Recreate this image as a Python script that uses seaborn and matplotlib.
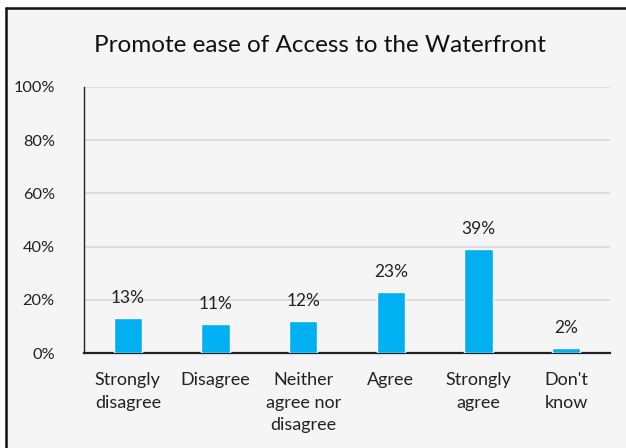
import matplotlib
matplotlib.use("Agg")
import matplotlib.pyplot as plt
import seaborn as sns
import pandas as pd
from matplotlib.patches import Rectangle
from matplotlib.lines import Line2D
from matplotlib.ticker import FuncFormatter

categories = ["Strongly\ndisagree", "Disagree", "Neither\nagree nor\ndisagree",
              "Agree", "Strongly\nagree", "Don't\nknow"]
values = [13, 11, 12, 23, 39, 2]
y_ticks = [0, 20, 40, 60, 80, 100]
title = "Promote ease of Access to the Waterfront"

sns.set_theme(style="white")
plt.rcParams["font.family"] = ["Lato", "DejaVu Sans"]

df = pd.DataFrame({"category": categories, "value": values})

W, H = 626, 448
fig = plt.figure(figsize=(W / 100, H / 100), dpi=100, facecolor="white")

# Chart area panel, framed on the top and left
x0, y0 = 5.5 / W, 1 - 8 / H
fig.patches.append(Rectangle((x0, 0), 1 - x0, y0, transform=fig.transFigure,
                             facecolor="#F5F5F5", edgecolor="none", zorder=-5))
fig.lines.append(Line2D([x0, 1], [y0, y0], transform=fig.transFigure,
                        color="#111111", linewidth=1.8, zorder=-4))
fig.lines.append(Line2D([x0, x0], [0, y0], transform=fig.transFigure,
                        color="#111111", linewidth=1.8, zorder=-4))

ax = fig.add_axes([84 / W, 1 - 353 / H, (610 - 84) / W, (353 - 87) / H])
ax.set_facecolor("none")

sns.barplot(data=df, x="category", y="value", color="#00B0F0", width=0.32,
            saturation=1, ax=ax, zorder=3)

ax.set_ylim(0, 100)
ax.set_yticks(y_ticks)
ax.yaxis.set_major_formatter(FuncFormatter(lambda v, p: f"{v:.0f}%"))
ax.grid(axis="y", color="#D9D9D9", linewidth=1.2, zorder=0)
ax.set_axisbelow(True)

for side in ["top", "right"]:
    ax.spines[side].set_visible(False)
ax.spines["left"].set_color("#222222")
ax.spines["left"].set_linewidth(1.0)
ax.spines["bottom"].set_color("#222222")
ax.spines["bottom"].set_linewidth(1.6)

ax.tick_params(axis="y", length=0, pad=21, labelsize=11.8, colors="#222222")
ax.tick_params(axis="x", length=0, pad=14, labelsize=13, colors="#222222")
for lbl in ax.get_xticklabels():
    lbl.set_linespacing(1.5)
ax.set_xlabel("")
ax.set_ylabel("")

for i, v in enumerate(values):
    ax.text(i, v + 4.5, f"{v}%", ha="center", va="bottom", fontsize=12.5, color="#222222")

fig.text(320 / W, 1 - 45 / H, title, ha="center", va="center", fontsize=17.5, color="#111111")

fig.savefig("out.png", dpi=100, facecolor="white")
